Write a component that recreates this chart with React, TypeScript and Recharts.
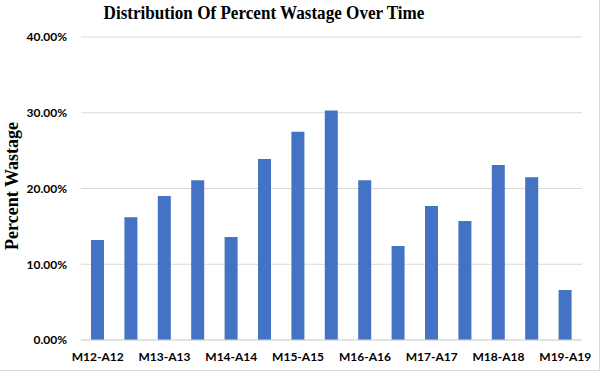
import { BarChart, Bar, XAxis, YAxis, CartesianGrid } from 'recharts'

const periods = [
  'M12-A12', 'A12-M13', 'M13-A13', 'A13-M14', 'M14-A14', 'A14-M15', 'M15-A15', 'A15-M16',
  'M16-A16', 'A16-M17', 'M17-A17', 'A17-M18', 'M18-A18', 'A18-M19', 'M19-A19',
]
const wastage = [
  0.132, 0.162, 0.19, 0.211, 0.136, 0.239, 0.275, 0.303,
  0.211, 0.124, 0.177, 0.157, 0.231, 0.215, 0.066,
]
const yTicks = [0, 0.1, 0.2, 0.3, 0.4]

const data = periods.map((p, i) => ({ period: p, wastage: wastage[i] }))

const tickFont = { fontSize: 12, fontWeight: 700, fill: '#000', fontFamily: 'Lato, sans-serif' }

function pct(v: number) {
  return (v * 100).toFixed(2) + '%'
}

export default function App() {
  return (
    <div
      style={{
        position: 'fixed',
        left: 0,
        top: 0,
        width: 600,
        height: 371,
        background: '#fff',
        boxSizing: 'border-box',
        borderRight: '1px solid #d9d9d9',
        borderBottom: '1px solid #d9d9d9',
      }}
    >
      <div
        style={{
          position: 'absolute',
          left: 264,
          top: 3,
          transform: 'translateX(-50%) scaleX(0.95)',
          whiteSpace: 'nowrap',
          fontFamily: '"Liberation Serif", serif',
          fontWeight: 700,
          fontSize: 18,
        }}
      >
        Distribution Of Percent Wastage Over Time
      </div>
      <div
        style={{
          position: 'absolute',
          left: 12,
          top: 186,
          transform: 'translate(-50%, -50%) rotate(-90deg)',
          whiteSpace: 'nowrap',
          fontFamily: '"Liberation Serif", serif',
          fontWeight: 700,
          fontSize: 18,
        }}
      >
        Percent Wastage
      </div>
      <div style={{ position: 'absolute', left: 0, top: 0 }}>
        <BarChart
          width={600}
          height={371}
          data={data}
          barSize={13}
          margin={{ top: 37, right: 18, left: 0, bottom: 1 }}
        >
          <CartesianGrid vertical={false} stroke="#d9d9d9" />
          <XAxis
            dataKey="period"
            interval={1}
            tick={tickFont}
            tickLine={false}
            axisLine={{ stroke: '#d9d9d9' }}
            tickMargin={6}
            height={30}
          />
          <YAxis
            domain={[0, 0.4]}
            ticks={yTicks}
            tickFormatter={pct}
            tick={tickFont}
            axisLine={false}
            tickLine={false}
            tickMargin={8}
            width={81}
          />
          <Bar dataKey="wastage" fill="#4472C4" isAnimationActive={false} />
        </BarChart>
      </div>
    </div>
  )
}
